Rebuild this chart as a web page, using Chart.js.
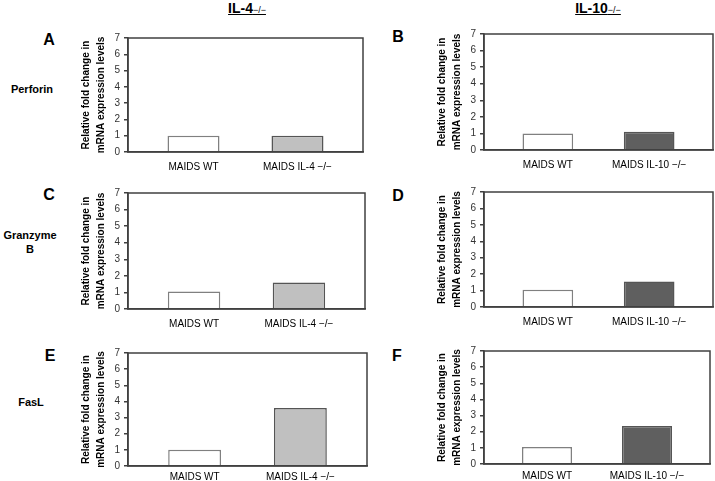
<!DOCTYPE html>
<html>
<head>
<meta charset="utf-8">
<script src="https://cdn.jsdelivr.net/npm/chart.js@4.4.1/dist/chart.umd.min.js"></script>
<style>
  body { margin: 0; background: #fff; width: 715px; height: 481px; overflow: hidden; position: relative; font-family: Arial, "Liberation Sans", sans-serif; }
  canvas { position: absolute; }
  .lbl { position: absolute; font-weight: bold; color: #000; white-space: nowrap; }
  .hdr { position: absolute; top: 0px; font-weight: bold; font-size: 14px; text-decoration: underline; transform: translateX(-50%); }
  .hdr small { font-size: 9px; font-weight: normal; }
  .letter { font-size: 16px; transform: translate(-50%, -50%); }
  .row { font-size: 11px; text-align: center; line-height: 14px; transform: translate(-50%, -50%); }
</style>
</head>
<body>
<div class="hdr" style="left:247px">IL-4<small>−/−</small></div>
<div class="hdr" style="left:598px">IL-10<small>−/−</small></div>

<div class="lbl letter" style="left:49px;top:40px">A</div>
<div class="lbl letter" style="left:398px;top:37px">B</div>
<div class="lbl letter" style="left:49px;top:195px">C</div>
<div class="lbl letter" style="left:398px;top:196px">D</div>
<div class="lbl letter" style="left:50px;top:356px">E</div>
<div class="lbl letter" style="left:397px;top:356px">F</div>

<div class="lbl row" style="left:32px;top:89px">Perforin</div>
<div class="lbl row" style="left:30px;top:242px">Granzyme<br>B</div>
<div class="lbl row" style="left:31px;top:402px">FasL</div>

<canvas id="cA"></canvas>
<canvas id="cB"></canvas>
<canvas id="cC"></canvas>
<canvas id="cD"></canvas>
<canvas id="cE"></canvas>
<canvas id="cF"></canvas>

<script>
// donnees
const categoriesIL4 = ["MAIDS WT", "MAIDS IL-4 −/−"];
const categoriesIL10 = ["MAIDS WT", "MAIDS IL-10 −/−"];

const perforinIL4 = [1.0, 1.0];
const perforinIL10 = [1.0, 1.1];
const granzymeIL4 = [1.05, 1.6];
const granzymeIL10 = [1.05, 1.55];
const faslIL4 = [1.0, 3.6];
const faslIL10 = [1.05, 2.35];

const yTicks = [0, 1, 2, 3, 4, 5, 6, 7];
const yTitle = ["Relative fold change in", "mRNA expression levels"];

const corWT = "#ffffff";
const corIL4 = "#c0c0c0";
const corIL10 = "#5f5f5f";

const Y_W = 58;   // largeur de l'axe y (titre compris)
const PAD_T = 10;
const X_H = 24;

// cadre autour de la zone du graphique
const cadre = {
  id: "cadre",
  afterDraw(chart) {
    const { ctx, chartArea: a } = chart;
    ctx.save();
    ctx.strokeStyle = "#404040";
    ctx.lineWidth = 1.5;
    ctx.strokeRect(a.left, a.top, a.right - a.left, a.bottom - a.top);
    ctx.restore();
  }
};

function criarPainel(id, categorias, valores, cor, ax, rx, ty, by, padX) {
  const cv = document.getElementById(id);
  const w = rx - ax + Y_W + 4;
  const h = by - ty + PAD_T + X_H;
  cv.width = w;
  cv.height = h;
  cv.style.left = (ax - Y_W) + "px";
  cv.style.top = (ty - PAD_T) + "px";

  new Chart(cv, {
    type: "bar",
    data: {
      datasets: [{
        data: valores.map((v, i) => ({ x: i + 1, y: v })),
        backgroundColor: [corWT, cor],
        borderColor: ["#808080", "#555555"],
        borderWidth: 1.5,
        categoryPercentage: 1,
        barPercentage: 0.5
      }]
    },
    options: {
      responsive: false,
      animation: false,
      layout: { padding: { top: PAD_T, right: 4, left: 0, bottom: 0 } },
      plugins: { legend: false, tooltip: { enabled: false } },
      scales: {
        x: {
          type: "linear",
          offset: false,
          min: 0.37,
          max: 2.63,
          afterBuildTicks: (s) => { s.ticks = categorias.map((c, i) => ({ value: i + 1 })); },
          afterFit: (s) => { s.height = X_H; },
          grid: { display: false, drawTicks: false, offset: false },
          border: { color: "#404040", width: 1.5 },
          ticks: {
            maxRotation: 0,
            autoSkip: false,
            padding: padX,
            color: "#000",
            font: { family: "Arial, 'Liberation Sans'", size: 10 },
            callback: (v) => categorias[v - 1] ?? ""
          }
        },
        y: {
          min: yTicks[0],
          max: yTicks[yTicks.length - 1],
          afterFit: (s) => { s.width = Y_W; },
          grid: { drawOnChartArea: false, drawTicks: true, tickLength: 4, color: "#404040", lineWidth: 1.5 },
          border: { color: "#404040", width: 1.5 },
          ticks: {
            stepSize: 1,
            padding: 4,
            color: "#333",
            font: { family: "Arial, 'Liberation Sans'", size: 10 }
          },
          title: {
            display: true,
            text: yTitle,
            color: "#000",
            padding: { top: 9, bottom: 0 },
            font: { family: "Arial, 'Liberation Sans'", size: 10, weight: "bold", lineHeight: 1.5 }
          }
        }
      }
    },
    plugins: [cadre]
  });
}

criarPainel("cA", categoriesIL4, perforinIL4, corIL4, 128, 363, 37.5, 151.7, 9);
criarPainel("cB", categoriesIL10, perforinIL10, corIL10, 484, 713, 34.3, 151, 9);
criarPainel("cC", categoriesIL4, granzymeIL4, corIL4, 128, 365, 192.7, 309.3, 9);
criarPainel("cD", categoriesIL10, granzymeIL10, corIL10, 484, 713, 191.7, 306.7, 9);
criarPainel("cE", categoriesIL4, faslIL4, corIL4, 128, 367, 352.5, 466, 5);
criarPainel("cF", categoriesIL10, faslIL10, corIL10, 484, 710, 351, 464, 6);
</script>
</body>
</html>
